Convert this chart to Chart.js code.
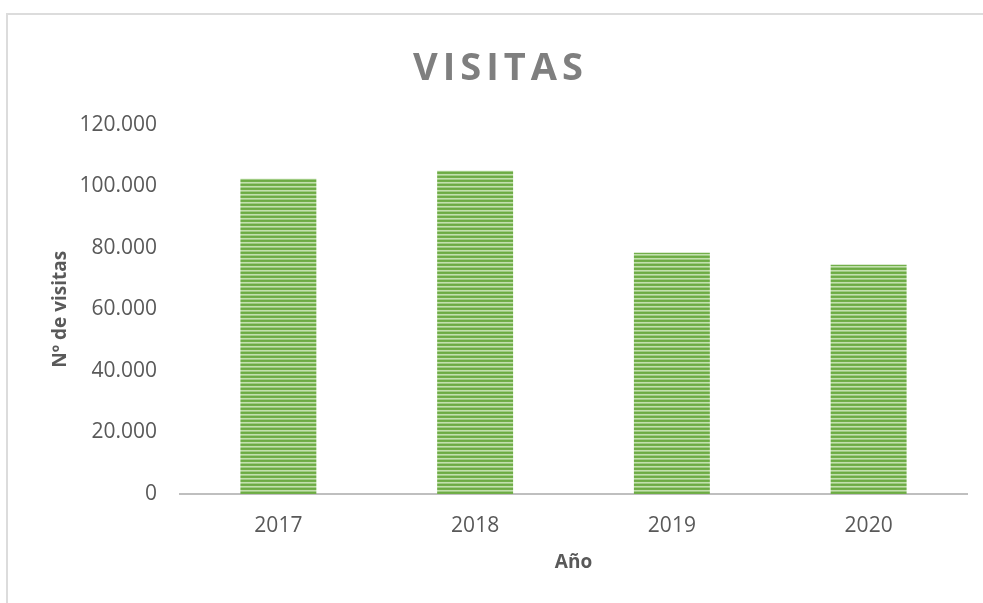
<!DOCTYPE html>
<html lang="es">
<head>
<meta charset="utf-8">
<title>Visitas</title>
<script src="https://cdn.jsdelivr.net/npm/chart.js@4/dist/chart.umd.min.js"></script>
<style>
  body { margin: 0; background: #fff; }
  #wrap { position: relative; width: 983px; height: 603px; overflow: hidden; }
  #frame {
    position: absolute; left: 6px; top: 13px;
    width: 1200px; height: 1200px;
    border: 2px solid #dcdcdc;
  }
  #chart { position: absolute; left: 0; top: 0; }
</style>
</head>
<body>
<div id="wrap">
  <div id="frame"></div>
  <canvas id="chart" width="983" height="603"></canvas>
</div>
<script>
// Data
const years = ['2017', '2018', '2019', '2020'];
const visitas = [102400, 105000, 78400, 74500];
const yMax = 120000;
const yStep = 20000;

// Stripe colours for the bar fill (top to bottom of one 4px tile)
const stripeColors = ['#6dab44', '#72af4a', '#c3e0ae', '#9fcb83'];

// Build striped pattern
function makeStripes() {
  const c = document.createElement('canvas');
  c.width = 1;
  c.height = stripeColors.length;
  const x = c.getContext('2d');
  stripeColors.forEach((col, i) => {
    x.fillStyle = col;
    x.fillRect(0, i, 1, 1);
  });
  return x.createPattern(c, 'repeat');
}

// Spanish number format: 120.000
function formatNum(v) {
  return String(v).replace(/\B(?=(\d{3})+(?!\d))/g, '.');
}

// Letter spacing (and a small nudge) for the chart title only
const titleSpacing = {
  id: 'titleSpacing',
  beforeDraw(chart) {
    const tb = chart.titleBlock;
    if (!tb || tb._spaced) return;
    const orig = tb.draw.bind(tb);
    tb.draw = function() {
      const c = this.ctx;
      c.save();
      c.translate(17, 4);
      c.letterSpacing = '5px';
      orig();
      c.restore();
    };
    tb._spaced = true;
  }
};

const textGray = '#595959';

new Chart(document.getElementById('chart'), {
  type: 'bar',
  data: {
    labels: years,
    datasets: [{
      label: 'Visitas',
      data: visitas,
      backgroundColor: makeStripes(),
      borderWidth: 0,
      categoryPercentage: 1,
      barPercentage: 0.386
    }]
  },
  options: {
    responsive: false,
    animation: false,
    layout: {
      padding: { top: 20, right: 16, left: 0, bottom: 0 }
    },
    plugins: {
      legend: { display: false },
      tooltip: { enabled: false },
      title: {
        display: true,
        text: 'VISITAS',
        color: '#7f7f7f',
        font: { family: 'Open Sans', size: 38, weight: 'bold' },
        padding: { top: 22, bottom: 37 }
      }
    },
    scales: {
      x: {
        grid: { display: false, drawTicks: false },
        border: { display: true, color: '#bfbfbf', width: 2 },
        ticks: {
          color: textGray,
          padding: 19,
          font: { family: 'Open Sans', size: 21 }
        },
        title: {
          display: true,
          text: 'Año',
          color: textGray,
          font: { family: 'Open Sans', size: 19, weight: 'bold' },
          padding: { top: 0, bottom: 29 }
        },
        afterFit(scale) {
          scale.height = 109;
        }
      },
      y: {
        min: 0,
        max: yMax,
        grid: { display: false, drawTicks: false },
        border: { display: false },
        ticks: {
          stepSize: yStep,
          color: textGray,
          padding: 23,
          font: { family: 'Open Sans', size: 21 },
          callback: function(value) {
            return formatNum(value);
          }
        },
        title: {
          display: true,
          text: 'Nº de visitas',
          color: textGray,
          font: { family: 'Open Sans', size: 19, weight: 'bold' },
          padding: { top: 49, bottom: 0 }
        },
        afterFit(scale) {
          scale.width = 180;
        }
      }
    }
  },
  plugins: [titleSpacing]
});
</script>
</body>
</html>
